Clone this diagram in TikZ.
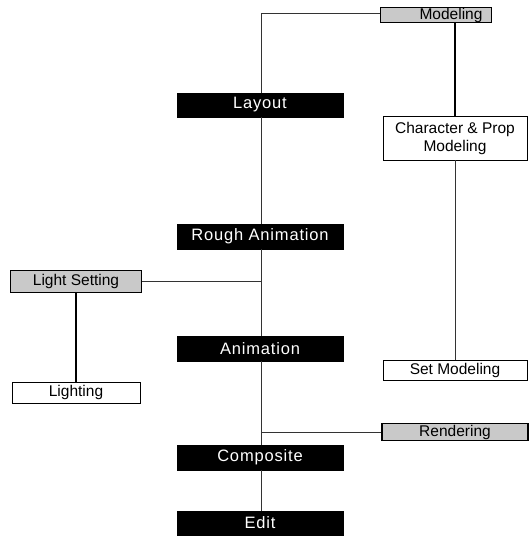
\documentclass[tikz,border=0pt]{standalone}
\usepackage{fontspec}
\setmainfont{Liberation Sans}
\newfontfamily\spacedfont[LetterSpace=5]{Liberation Sans}
\begin{document}
\begin{tikzpicture}[x=1pt,y=-1pt,
  blackbox/.style={draw=black,fill=black,text=white,minimum width=166pt,inner sep=0pt,font=\spacedfont\fontsize{16.5}{19}\selectfont},
  graybox/.style={draw=black,line width=1.6pt,fill=gray!42,inner sep=0pt,font=\fontsize{15.5}{18}\selectfont},
  whitebox/.style={draw=black,line width=0.8pt,fill=white,inner sep=0pt,align=center,font=\fontsize{15.5}{18}\selectfont},
  conn/.style={draw=black!80,line width=0.7pt},
  thickconn/.style={draw=black,line width=1.1pt}]
\useasboundingbox (0,0) rectangle (530,537);
\node[blackbox,minimum height=24pt] (layout) at (260,105) {Layout};
\node[blackbox,minimum height=25pt] (rough) at (260,236.5) {Rough Animation};
\node[blackbox,minimum height=25pt] (anim) at (260,348.5) {Animation};
\node[blackbox,minimum height=25pt] (comp) at (260,457.5) {Composite};
\node[blackbox,minimum height=24pt] (edit) at (260,523) {Edit};
\node[graybox,minimum width=111pt,minimum height=15pt] (model) at (436,15) {\hspace*{30pt}Modeling};
\node[graybox,minimum width=131pt,minimum height=22pt] (light) at (76,281.5) {Light Setting};
\node[whitebox,minimum width=128pt,minimum height=21pt] (lighting) at (76,392.5) {Lighting};
\node[whitebox,minimum width=144pt,minimum height=44pt] (char) at (455,138) {Character \& Prop\\Modeling};
\node[whitebox,minimum width=144pt,minimum height=20pt] (set) at (455,370) {Set Modeling};
\node[graybox,minimum width=146pt,minimum height=17pt] (rend) at (455,432) {Rendering};
\coordinate (topc) at (261,13);
\draw[conn] (model.west |- topc) -- (topc) -- (layout.north -| topc);
\draw[conn] (layout.south -| topc) -- (rough.north -| topc);
\draw[conn] (rough.south -| topc) -- (anim.north -| topc);
\draw[conn] (anim.south -| topc) -- (comp.north -| topc);
\draw[conn] (comp.south -| topc) -- (edit.north -| topc);
\draw[conn] (light.east) -- (light.east -| topc);
\draw[conn] (rend.west) -- (rend.west -| topc);
\draw[thickconn] (light.south -| lighting.north) -- (lighting.north);
\draw[thickconn] (char.north |- model.south) -- (char.north);
\draw[conn] (char.south) -- (set.north);
\end{tikzpicture}
\end{document}
